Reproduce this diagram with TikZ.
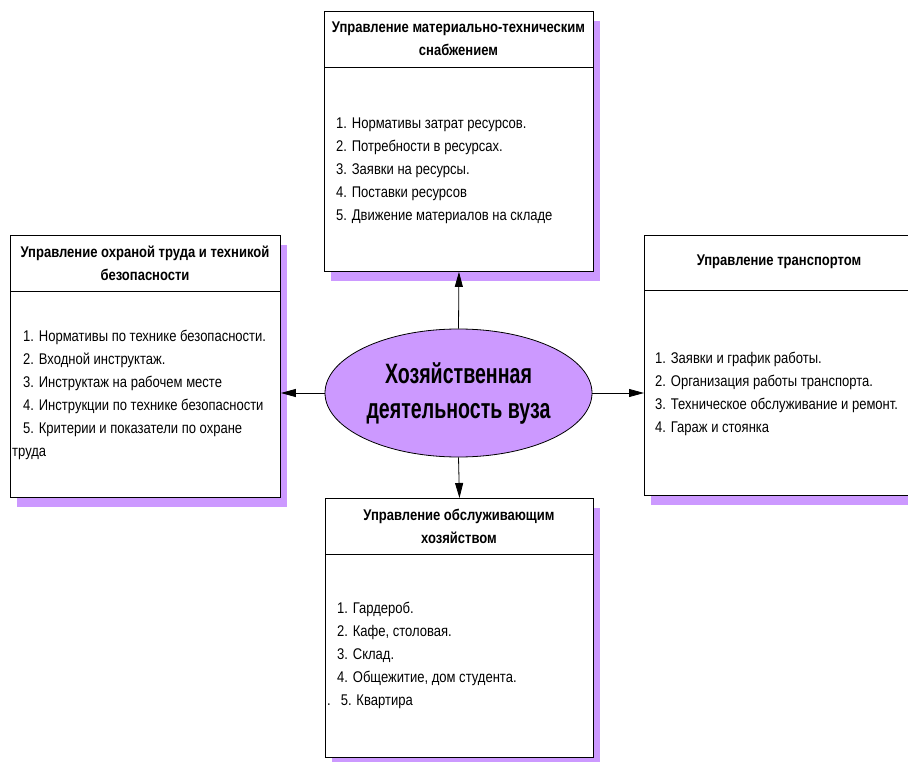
\documentclass[tikz,border=0pt]{standalone}
\usepackage{fontspec}
\setmainfont[FakeStretch=0.84]{Liberation Sans}
\newfontfamily\titlefont[FakeStretch=0.70]{Liberation Sans}
\usetikzlibrary{shapes.geometric,arrows.meta,shadows}
\definecolor{lilac}{HTML}{CC99FF}
\begin{document}
\begin{tikzpicture}[x=1pt,y=-1pt,
  box/.style={draw=black, line width=0.9pt, fill=white, rectangle, inner sep=0pt, anchor=north west,
    general shadow={fill=lilac, shadow xshift=7pt, shadow yshift=-10pt}},
  head/.style={font=\fontsize{15.5}{23}\selectfont\bfseries, align=center, inner sep=0pt},
  list/.style={font=\fontsize{15.5}{23}\selectfont, align=left, inner sep=0pt, anchor=north west},
  sep/.style={line width=0.9pt},
  arr/.style={-{Triangle[length=15pt,width=8pt]}, line width=0.8pt}]
\useasboundingbox (0,0) rectangle (908,762);
\clip (0,0) rectangle (908,762);

% boxes
\node[box, minimum width=269pt, minimum height=260pt] (top) at (324,11) {};
\node[box, minimum width=270pt, minimum height=262pt] (lft) at (10,235) {};
\node[box, minimum width=280pt, minimum height=260pt] (rgt) at (644,235) {};
\node[box, minimum width=268pt, minimum height=259pt] (bot) at (325,498) {};

% header separators
\draw[sep] (top.west |- 0,67) -- (top.east |- 0,67);
\draw[sep] (lft.west |- 0,291) -- (lft.east |- 0,291);
\draw[sep] (rgt.west |- 0,290) -- (rgt.east |- 0,290);
\draw[sep] (bot.west |- 0,554) -- (bot.east |- 0,554);

% headers
\node[head] (toph) at (458.5,39) {Управление материально-техническим\\снабжением};
\node[head] (lfth) at (145,263) {Управление охраной труда и техникой\\безопасности};
\node[head] (rgth) at (779,262) {Управление транспортом};
\node[head] (both) at (459,526) {Управление обслуживающим\\хозяйством};

% lists
\node[list] (topl) at (336,118) {1. Нормативы затрат ресурсов.\\
2. Потребности в ресурсах.\\
3. Заявки на ресурсы.\\
4. Поставки ресурсов\\
5. Движение материалов на складе};
\node[list] (lftl) at (12,330) {\hspace*{11pt}1. Нормативы по технике безопасности.\\
\hspace*{11pt}2. Входной инструктаж.\\
\hspace*{11pt}3. Инструктаж на рабочем месте\\
\hspace*{11pt}4. Инструкции по технике безопасности\\
\hspace*{11pt}5. Критерии и показатели по охране\\
труда};
\node[list] (rgtl) at (655,352) {1. Заявки и график работы.\\
2. Организация работы транспорта.\\
3. Техническое обслуживание и ремонт.\\
4. Гараж и стоянка};
\node[list] (botl) at (327,602) {\hspace*{10pt}1. Гардероб.\\
\hspace*{10pt}2. Кафе, столовая.\\
\hspace*{10pt}3. Склад.\\
\hspace*{10pt}4. Общежитие, дом студента.\\
.\hspace*{10pt}5. Квартира};

% hub
\node[ellipse, draw=black, line width=0.8pt, fill=lilac, minimum width=267pt, minimum height=128pt,
  inner sep=0pt, align=center, font=\titlefont\bfseries\fontsize{28}{35}\selectfont] (hub) at (458.5,393)
  {Хозяйственная\\деятельность вуза};

% connectors
\draw[arr] (hub.north) -- (top.south);
\draw[arr] (hub.south) -- (bot.north);
\draw[arr] (hub.west) -- (hub.west -| lft.east);
\draw[arr] (hub.east) -- (hub.east -| rgt.west);
\end{tikzpicture}
\end{document}
